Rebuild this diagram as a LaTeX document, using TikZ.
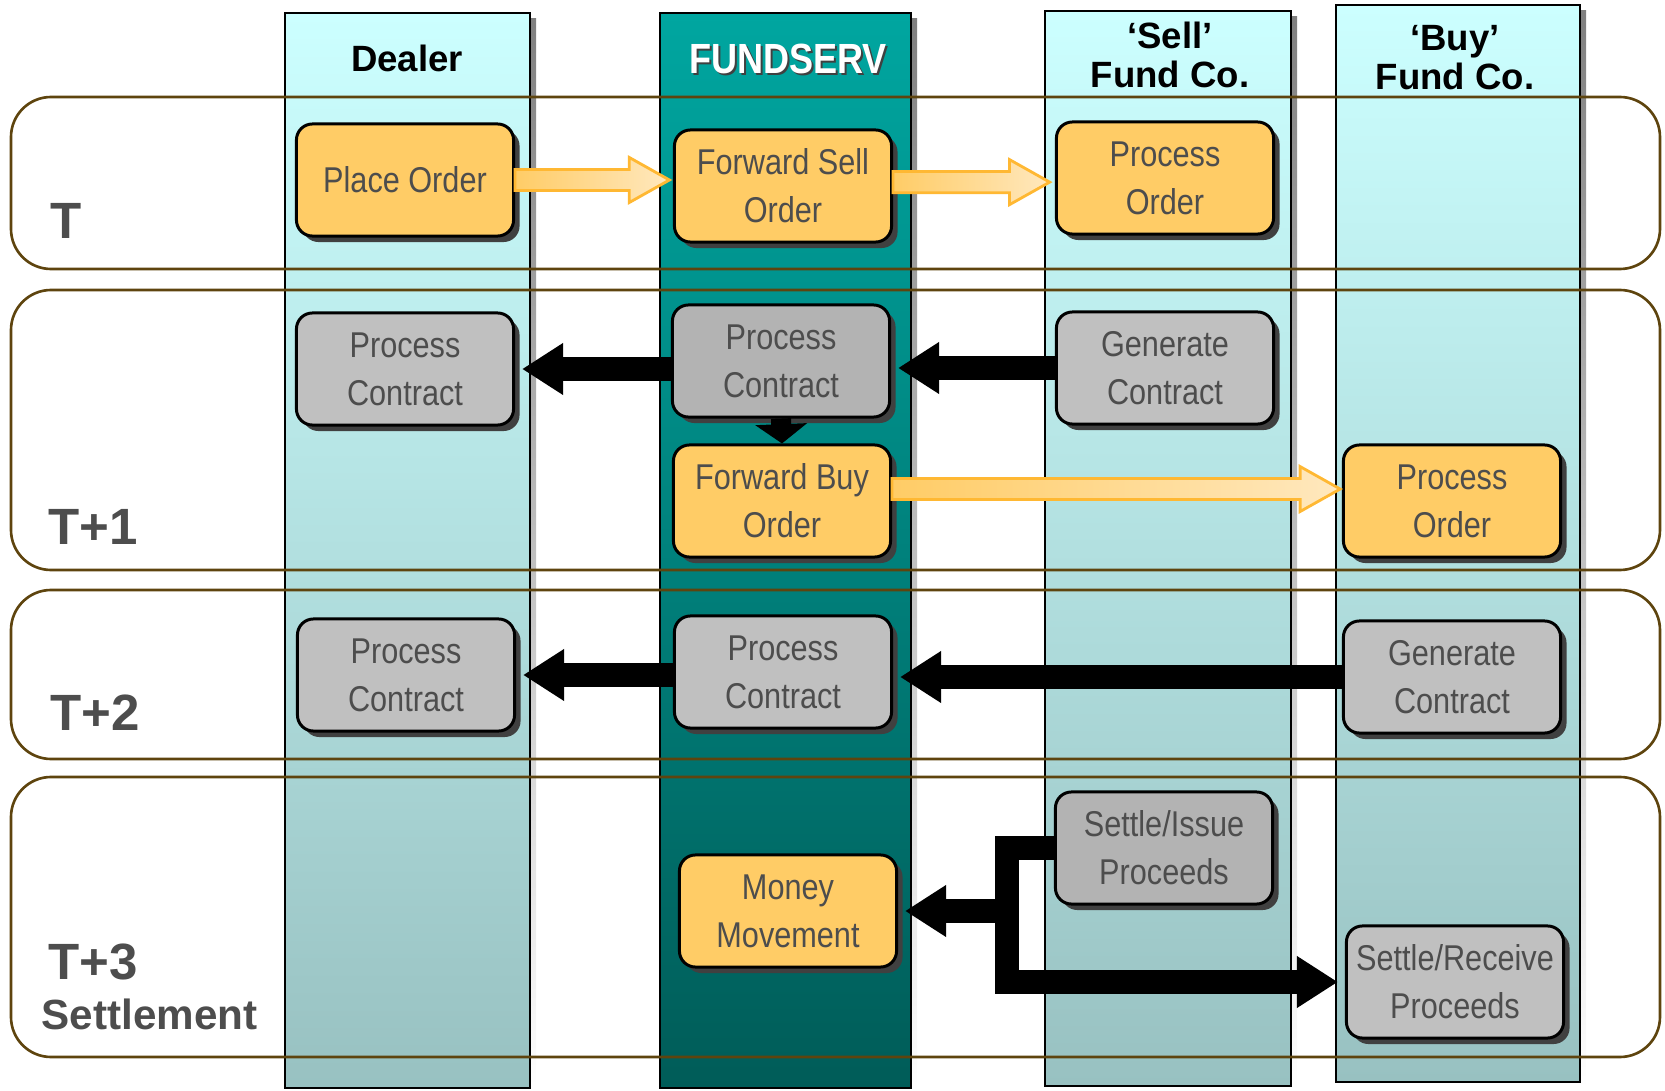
\documentclass[tikz,border=0pt]{standalone}
\usepackage{fontspec}
\setmainfont{Liberation Sans}
\newfontfamily\narrowfont[FakeStretch=0.855]{Liberation Sans}
\usepackage{xcolor}
\usetikzlibrary{calc, arrows.meta, shadows}

\definecolor{boxorange}{RGB}{255,204,102}
\definecolor{boxgray}{RGB}{192,192,192}
\definecolor{boxdark}{RGB}{179,179,179}
\definecolor{txtgray}{RGB}{77,77,77}
\definecolor{bandbrown}{RGB}{94,68,14}
\definecolor{lanetop}{RGB}{204,255,255}
\definecolor{lanebot}{RGB}{152,193,193}
\definecolor{fstop}{RGB}{0,166,160}
\definecolor{fsbot}{RGB}{0,92,88}
\definecolor{arrowedge}{RGB}{255,184,51}
\definecolor{arrowlight}{RGB}{255,232,190}
\definecolor{shade}{RGB}{64,64,64}

\tikzset{
  stepbox/.style={draw=black, line width=0.85pt, rounded corners=0.16cm,
    minimum width=2.17cm, minimum height=1.12cm, inner sep=0pt, align=center,
    text=txtgray, font={\narrowfont\fontsize{10.2pt}{13.7pt}\selectfont},
    general shadow={fill=shade, shadow xshift=0.06cm, shadow yshift=-0.06cm}},
  orderbox/.style={stepbox, fill=boxorange},
  contractbox/.style={stepbox, fill=boxgray},
  darkbox/.style={stepbox, fill=boxdark},
  band/.style={draw=bandbrown, line width=0.75pt, rounded corners=0.4cm},
  lanehead/.style={anchor=base, align=center, font={\bfseries\fontsize{10.4pt}{11.1pt}\selectfont}},
  bandlabel/.style={anchor=base west, inner sep=0pt, text=txtgray, font={\bfseries\fontsize{14.5pt}{16pt}\selectfont}},
  fwdarrow/.style={draw=arrowedge, line width=0.8pt, left color=boxorange, right color=arrowlight},
  barrow/.style={draw=black, line width=6.8pt, -{Triangle[length=11.7pt,width=14pt]}, shorten >=2pt},
  downarrow/.style={draw=black, line width=5.7pt, -{Triangle[length=5.5pt,width=14.5pt]}}
}

\newcommand{\fwdarrowpath}[2]{%
  \path[fwdarrow] let \p1=#1, \p2=#2 in
    (\x1,\y1+3pt) -- (\x2-11.4pt,\y1+3pt) -- (\x2-11.4pt,\y1+6.4pt) -- (\x2,\y1)
    -- (\x2-11.4pt,\y1-6.4pt) -- (\x2-11.4pt,\y1-3pt) -- (\x1,\y1-3pt) -- cycle;}

\begin{document}
\begin{tikzpicture}[x=0.01cm, y=-0.01cm]
\useasboundingbox (0,0) rectangle (1665,1091);
    % Colunas:
    \foreach \xa/\xb/\yt/\yb in {285/530/13/1088, 1045/1291/11/1086, 1336/1580/5/1082} {
        \fill[shade] (\xa+6,\yt+6) rectangle (\xb+6,\yb+6);
        \draw[line width=0.6pt, top color=lanetop, bottom color=lanebot] (\xa,\yt) rectangle (\xb,\yb);
    }
    \fill[shade] (666,19) rectangle (917,1094);
    \draw[line width=0.6pt, top color=fstop, bottom color=fsbot] (660,13) rectangle (911,1088);
    % Faixas de tempo:
    \foreach \yt/\yb in {97/269, 290/570, 590/759, 777/1057}
        \draw[band] (11,\yt) rectangle (1660,\yb);
    % Titulos:
    \node[lanehead] (h1) at (407,72) {Dealer};
    \node[anchor=base, text=shade, font={\narrowfont\bfseries\fontsize{12pt}{13pt}\selectfont}] at (790,76) {FUNDSERV};
    \node[anchor=base, text=white, font={\narrowfont\bfseries\fontsize{12pt}{13pt}\selectfont}] (h2) at (788,74) {FUNDSERV};
    \node[lanehead] (h3) at (1170,88) {‘Sell’\\Fund Co.};
    \node[lanehead] (h4) at (1455,90) {‘Buy’\\Fund Co.};
    \node[bandlabel] (t0) at (50,239) {T};
    \node[bandlabel] (t1) at (48,545) {T+1};
    \node[bandlabel] (t2) at (50,731) {T+2};
    \node[bandlabel] (t3) at (48,979) {T+3};
    \node[bandlabel, font={\bfseries\fontsize{12pt}{13pt}\selectfont}] (t4) at (41,1030) {Settlement};
    % Caixas:
    \node[orderbox] (n1) at (405,180) {Place Order};
    \node[orderbox] (n2) at (783,186) {Forward Sell\\Order};
    \node[orderbox] (n3) at (1165,178) {Process\\Order};
    \node[contractbox] (n4) at (405,369) {Process\\Contract};
    \node[darkbox] (n5) at (781,361) {Process\\Contract};
    \node[contractbox] (n6) at (1165,368) {Generate\\Contract};
    \node[orderbox] (n7) at (782,501) {Forward Buy\\Order};
    \node[orderbox] (n8) at (1452,501) {Process\\Order};
    \node[contractbox] (n9) at (406,675) {Process\\Contract};
    \node[contractbox] (n10) at (783,672) {Process\\Contract};
    \node[contractbox] (n11) at (1452,677) {Generate\\Contract};
    \node[darkbox] (n12) at (1164,848) {Settle/Issue\\Proceeds};
    \node[orderbox] (n13) at (788,911) {Money\\Movement};
    \node[contractbox] (n14) at (1455,982) {Settle/Receive\\Proceeds};
    \coordinate (j) at (1007,911);
    % Setas:
    \fwdarrowpath{(n1.east)}{([xshift=-1pt]n2.west)}
    \fwdarrowpath{([yshift=1.1pt]n2.east)}{([xshift=-1.5pt]n3.west)}
    \fwdarrowpath{([yshift=3.4pt]n7.east)}{([xshift=-0.5pt]n8.west)}
    \draw[barrow] (n4.east -| n5.west) -- (n4.east);
    \draw[barrow] (n6.west) -- (n6.west -| n5.east);
    \draw[downarrow] (n5.south) -- (n7.north);
    \draw[barrow] (n9.east -| n10.west) -- (n9.east);
    \draw[barrow] (n11.west) -- (n11.west -| n10.east);
    \draw[barrow] (n12.west) -- (n12.west -| j) |- (n14.west);
    \draw[barrow] (j) -- (n13.east);
\end{tikzpicture}
\end{document}
